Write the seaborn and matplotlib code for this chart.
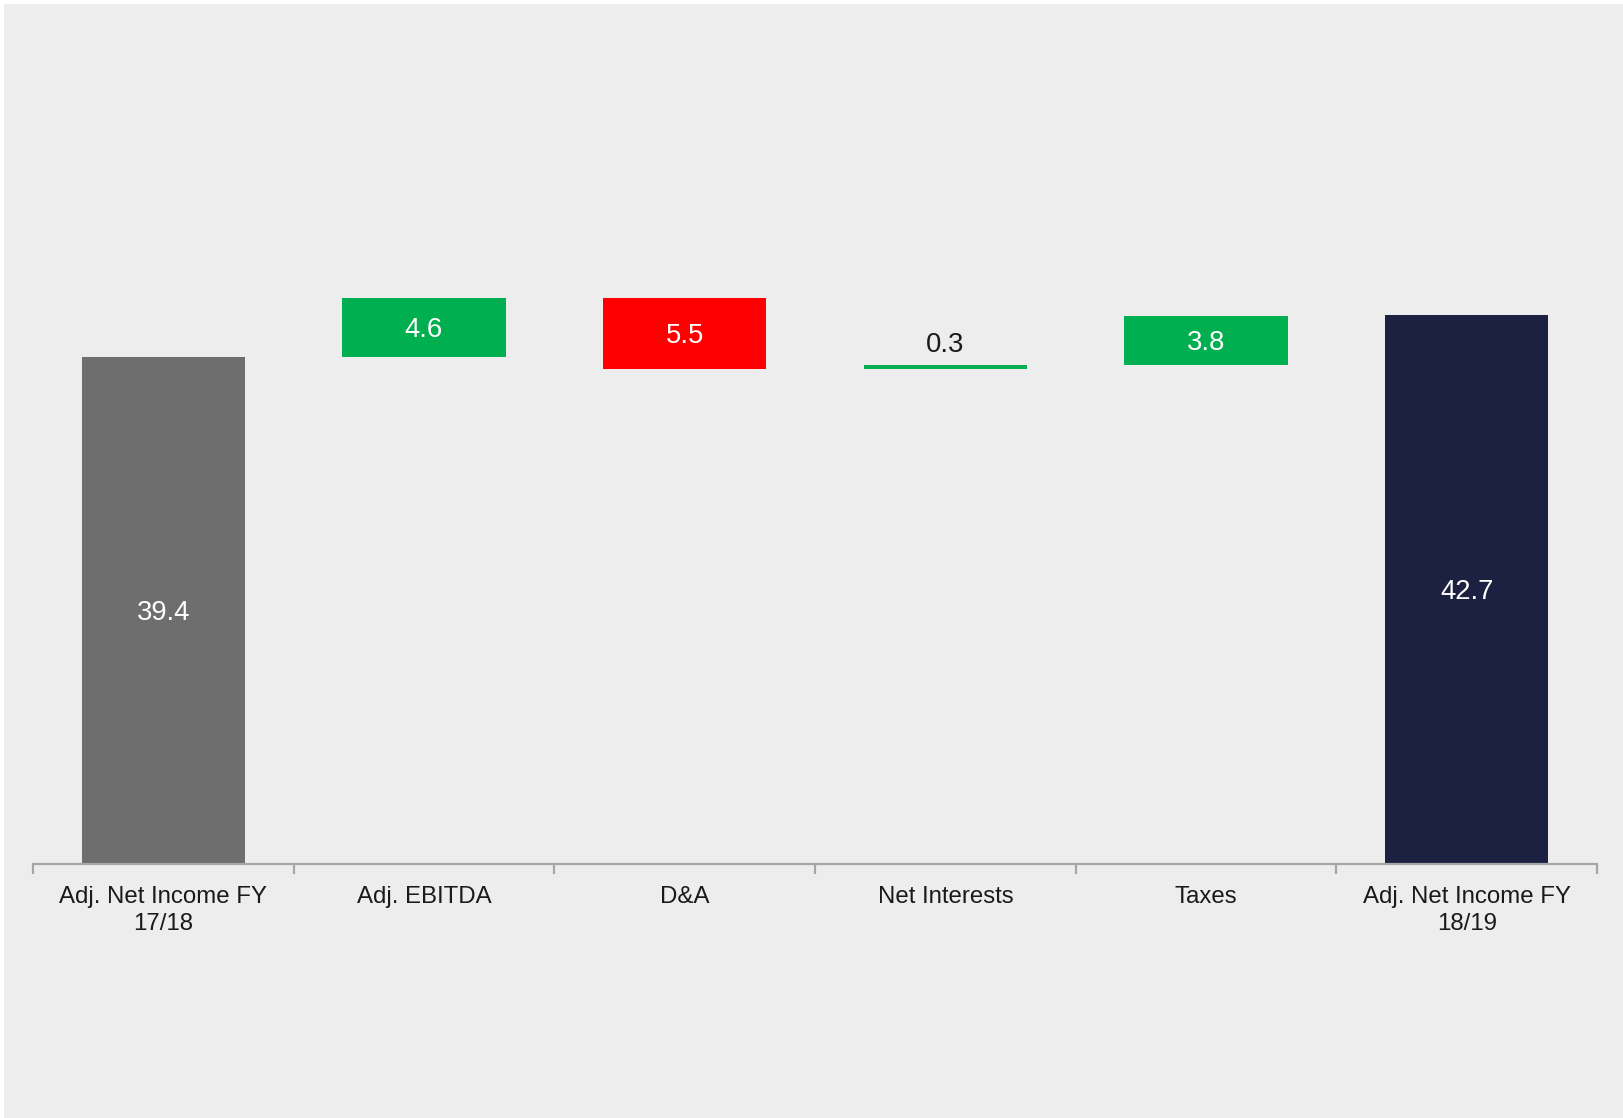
import numpy as np
import pandas as pd
import seaborn as sns
import matplotlib
matplotlib.use("Agg")
import matplotlib.pyplot as plt
from matplotlib.patches import Rectangle
from matplotlib.ticker import FixedLocator

# Bridge from FY 17/18 to FY 18/19 adjusted net income
categories = ["Adj. Net Income FY\n17/18", "Adj. EBITDA", "D&A",
              "Net Interests", "Taxes", "Adj. Net Income FY\n18/19"]
start_value = 39.4
changes = [4.6, -5.5, 0.3, 3.8]
end_value = 42.7
value_labels = ["39.4", "4.6", "5.5", "0.3", "3.8", "42.7"]

GRAY = "#6E6E6E"
GREEN = "#00B050"
RED = "#FF0000"
NAVY = "#1C2142"
BG = "#EDEDED"

# Bar bottoms and heights of the waterfall
running = start_value
bottoms = [0.0]
heights = [start_value]
colors = [GRAY]
for c in changes:
    bottoms.append(running if c >= 0 else running + c)
    heights.append(abs(c))
    colors.append(GREEN if c >= 0 else RED)
    running += c
bottoms.append(0.0)
heights.append(end_value)
colors.append(NAVY)

df = pd.DataFrame({"step": categories, "height": heights, "bottom": bottoms})

sns.set_theme(style="white")
plt.rcParams["font.family"] = ["Liberation Sans", "DejaVu Sans"]

W, H = 1623, 1118
fig = plt.figure(figsize=(W / 100, H / 100), dpi=100, facecolor="white")
fig.patches.append(Rectangle((4 / W, 0), 1 - 4 / W, 1 - 4 / H,
                             transform=fig.transFigure, facecolor=BG,
                             edgecolor="none", zorder=-10))

ax = fig.add_axes([33 / W, 1 - 864 / H, (1597 - 33) / W, 772 / H])
ax.set_facecolor("none")

sns.barplot(data=df, x="step", y="height", bottom=df["bottom"].values,
            color=GRAY, saturation=1, width=0.627, errorbar=None, ax=ax,
            linewidth=0, edgecolor="none")
for patch, col in zip(ax.patches, colors):
    patch.set_facecolor(col)

ax.set_xlim(-0.5, len(categories) - 0.5)
ax.set_ylim(0, 60)

# Value labels
for i, (b, h, lab) in enumerate(zip(bottoms, heights, value_labels)):
    if h < 1.0:
        ax.annotate(lab, (i, b + h), xytext=(0, 14), textcoords="offset points",
                    ha="center", va="center", fontsize=19.8, color="#1A1A1A")
    else:
        ax.annotate(lab, (i, b + h / 2), xytext=(0, -2),
                    textcoords="offset points", ha="center", va="center",
                    fontsize=19.8, color="white")

# Axis styling
for side in ["left", "right", "top"]:
    ax.spines[side].set_visible(False)
ax.spines["bottom"].set_color("#A6A6A6")
ax.spines["bottom"].set_linewidth(1.6)
ax.set_yticks([])
ax.set_xlabel("")
ax.set_ylabel("")
ax.tick_params(axis="x", which="major", length=0, pad=15.5, labelsize=17.3,
               labelcolor="#1A1A1A")
ax.xaxis.set_minor_locator(FixedLocator(np.arange(-0.5, len(categories), 1.0)))
ax.tick_params(axis="x", which="minor", length=7, width=1.6, color="#A6A6A6",
               direction="out", bottom=True)
for t in ax.get_xticklabels():
    t.set_linespacing(1.3)

fig.savefig("out.png", dpi=100, facecolor=fig.get_facecolor())
